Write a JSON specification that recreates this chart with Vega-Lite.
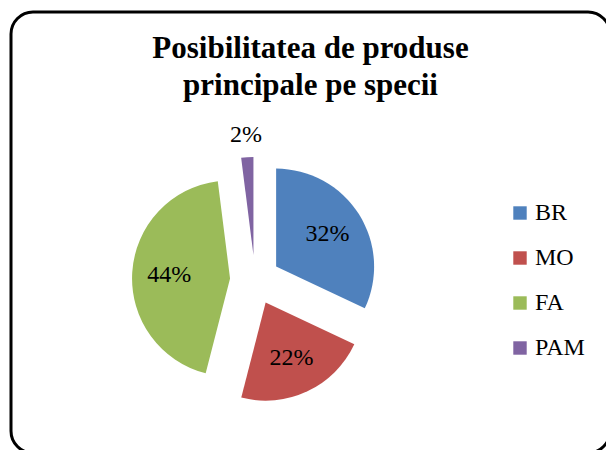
{
  "$schema": "https://vega.github.io/schema/vega-lite/v6.json",
  "width": 599,
  "height": 441,
  "autosize": "none",
  "padding": {"left": 11, "top": 12, "right": -4, "bottom": -3},
  "background": "white",
  "view": {"stroke": "black", "strokeWidth": 3, "cornerRadius": 22, "fill": "white"},
  "config": {
    "font": "'Liberation Serif', serif"
  },
  "title": {
    "text": ["Posibilitatea de produse", "principale pe specii"],
    "font": "'Liberation Serif', serif",
    "fontSize": 31,
    "fontWeight": "bold",
    "color": "black",
    "anchor": "middle",
    "baseline": "top",
    "offset": -90,
    "lineHeight": 37
  },
  "data": {
    "values": [
      {"cat": "BR", "value": 0.32, "i": 1},
      {"cat": "MO", "value": 0.22, "i": 2},
      {"cat": "FA", "value": 0.44, "i": 3},
      {"cat": "PAM", "value": 0.02, "i": 4}
    ]
  },
  "transform": [
    {"stack": "value", "groupby": [], "sort": [{"field": "i", "order": "ascending"}], "as": ["v0", "v1"]}
  ],
  "layer": [
    {
      "mark": {
        "type": "arc",
        "outerRadius": 98,
        "x": {"expr": "244 + 25*sin(PI*(datum.v0+datum.v1))"},
        "y": {"expr": "268 - 25*cos(PI*(datum.v0+datum.v1))"}
      },
      "encoding": {
        "theta": {"field": "v0", "type": "quantitative", "scale": {"domain": [0, 1], "range": [0, 6.283185307179586]}},
        "theta2": {"field": "v1"},
        "color": {
          "field": "cat",
          "type": "nominal",
          "scale": {"domain": ["BR", "MO", "FA", "PAM"], "range": ["#4F81BD", "#C0504D", "#9BBB59", "#8064A2"]},
          "legend": {
            "title": null,
            "orient": "none",
            "legendX": 497,
            "legendY": 189,
            "symbolType": "square",
            "symbolSize": 180,
            "symbolStrokeWidth": 0,
            "labelFont": "'Liberation Serif', serif",
            "labelFontSize": 24,
            "labelColor": "black",
            "labelOffset": 3,
            "rowPadding": 21,
            "padding": 0
          }
        }
      }
    },
    {
      "transform": [{"filter": "datum.cat != 'PAM'"}],
      "mark": {
        "type": "text",
        "x": 244,
        "y": 268,
        "radius": 86,
        "theta": {"expr": "PI*(datum.v0+datum.v1)"},
        "font": "'Liberation Serif', serif",
        "fontSize": 24,
        "color": "black",
        "align": "center",
        "baseline": "middle"
      },
      "encoding": {
        "text": {"field": "value", "type": "quantitative", "format": ".0%"}
      }
    },
    {
      "transform": [{"filter": "datum.cat == 'PAM'"}],
      "mark": {
        "type": "text",
        "x": 244,
        "y": 268,
        "radius": 145,
        "theta": {"expr": "PI*(datum.v0+datum.v1)"},
        "font": "'Liberation Serif', serif",
        "fontSize": 24,
        "color": "black",
        "align": "center",
        "baseline": "middle"
      },
      "encoding": {
        "text": {"field": "value", "type": "quantitative", "format": ".0%"}
      }
    }
  ]
}
